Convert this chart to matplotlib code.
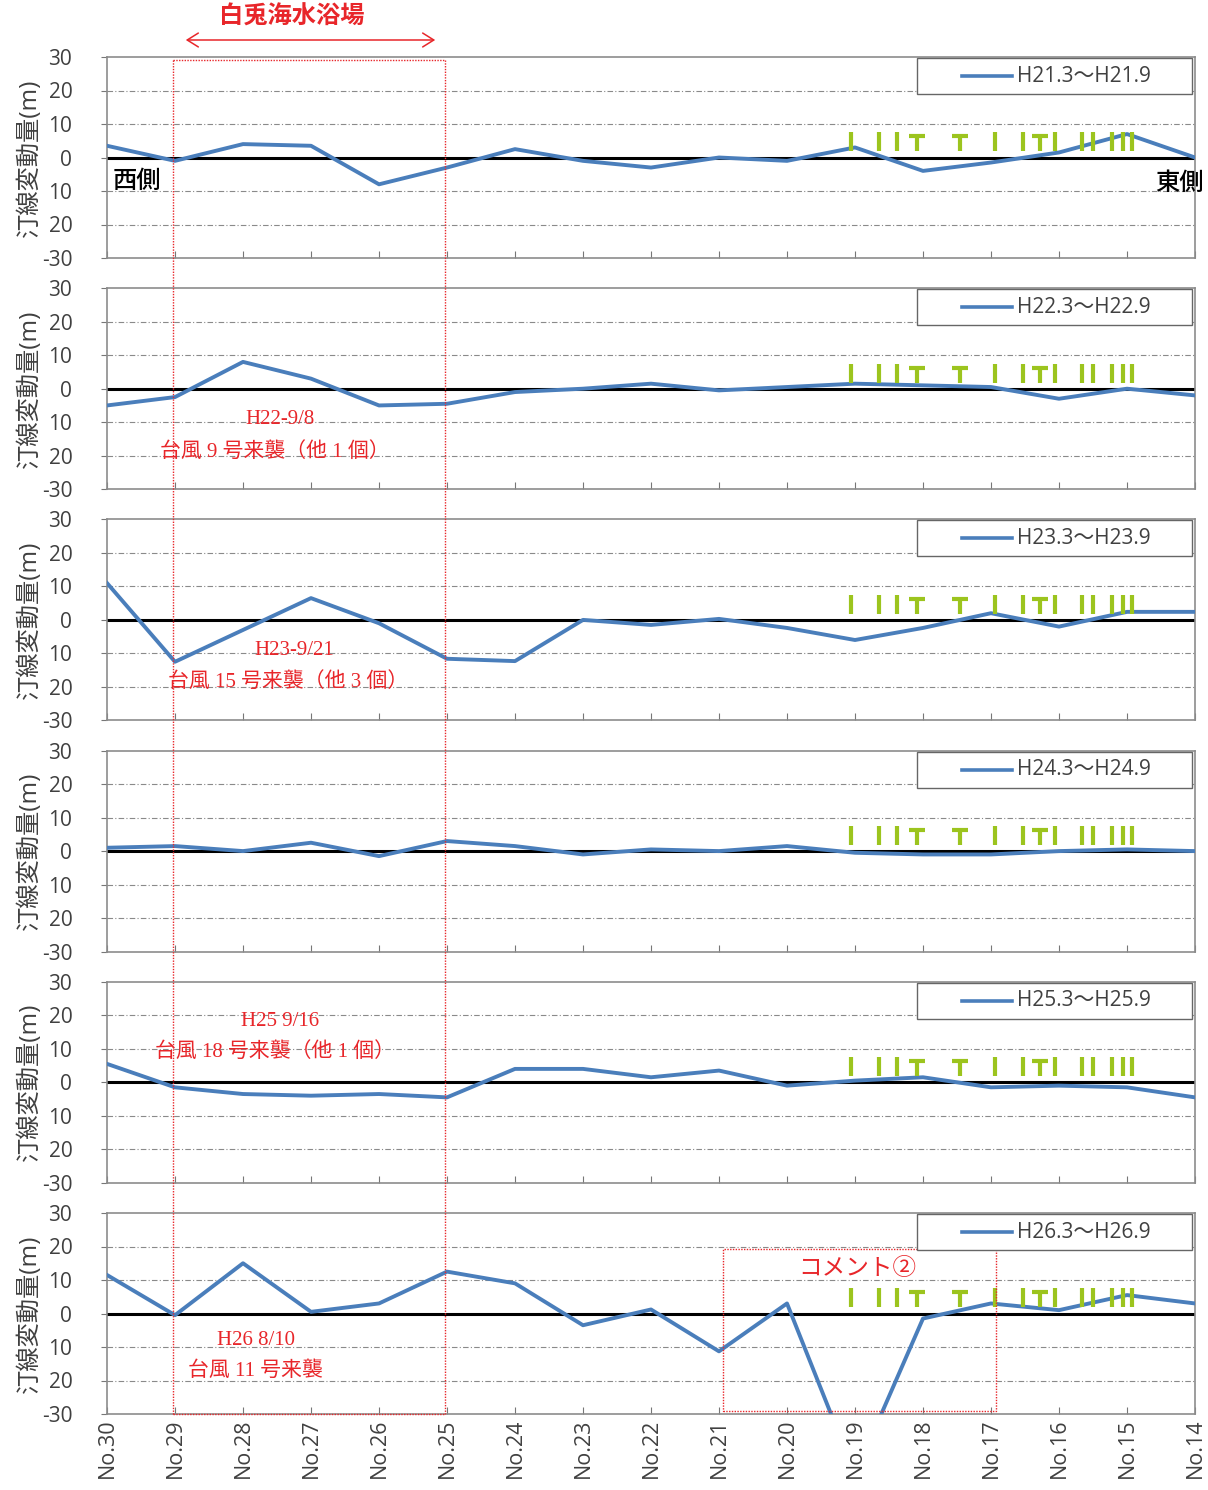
import numpy as np
import matplotlib.pyplot as plt
from matplotlib.patches import Rectangle, FancyArrowPatch
from matplotlib.lines import Line2D

plt.rcParams['font.family'] = ['Open Sans', 'Noto Sans CJK JP', 'DejaVu Sans']

# stations, west (No.30) to east (No.14)
stations = ['No.30', 'No.29', 'No.28', 'No.27', 'No.26', 'No.25', 'No.24', 'No.23', 'No.22',
            'No.21', 'No.20', 'No.19', 'No.18', 'No.17', 'No.16', 'No.15', 'No.14']
periods = ['H21.3～H21.9', 'H22.3～H22.9', 'H23.3～H23.9',
           'H24.3～H24.9', 'H25.3～H25.9', 'H26.3～H26.9']

# shoreline change (m)
h21 = [3.5, -1, 4, 3.5, -8, -3, 2.5, -1, -3, 0, -1, 3, -4, -1.5, 1.5, 7, 0]
h22 = [-5, -2.5, 8, 3, -5, -4.5, -1, 0, 1.5, -0.5, 0.5, 1.5, 1, 0.5, -3, 0, -2]
h23 = [11, -12.5, -3, 6.5, -1, -11.6, -12.3, 0, -1.5, 0.3, -2.4, -6, -2.4, 2, -2, 2.4, 2.4]
h24 = [1, 1.5, 0, 2.5, -1.5, 3, 1.5, -1, 0.5, 0, 1.5, -0.5, -1, -1, 0, 0.5, 0]
h25 = [5.5, -1.5, -3.5, -4, -3.5, -4.5, 4, 4, 1.5, 3.5, -1, 0.5, 1.5, -1.5, -1, -1.5, -4.5]
h26 = [11.5, -0.5, 15, 0.5, 3, 12.5, 9, -3.5, 1.2, -11.3, 3, -48, -1.5, 3, 1, 5.5, 3]
series = [h21, h22, h23, h24, h25, h26]

# typhoon notes per panel
typhoon_dates = [None, 'H22-9/8', 'H23-9/21', None, 'H25 9/16', 'H26 8/10']
typhoon_names = [None, '台風 9 号来襲（他 1 個）', '台風 15 号来襲（他 3 個）', None,
                 '台風 18 号来襲（他 1 個）', '台風 11 号来襲']
note_pos = [None, (2.54, -9.3, 2.47, -18.8), (2.76, -9, 2.66, -18.5), None,
            (2.54, 18.2, 2.47, 9), (2.19, -8, 2.19, -17.3)]

# coastal structures (groins I / T-groins T)
struct_x = [10.94, 11.35, 11.62, 11.91, 12.54, 13.06, 13.47, 13.72, 13.94,
            14.34, 14.5, 14.78, 14.94, 15.07]
struct_kind = 'IIITTIITIIIIII'

ytick_vals = [30, 20, 10, 0, -10, -20, -30]
ytick_text = ['30', '20', '10', '0', '10', '20', '-30']

blue = '#4a7ebb'
green = '#9cc41e'
red = '#e8262a'
gray = '#404040'
serif_jp = ['Liberation Serif', 'Noto Sans CJK JP']

W, H = 1208, 1490
fig = plt.figure(figsize=(W / 100, H / 100), dpi=100)
x = np.arange(len(stations))

axes = []
for i, vals in enumerate(series):
    top = 57 + 231.2 * i
    ax = fig.add_axes([107 / W, 1 - (top + 201) / H, 1088 / W, 201 / H])
    axes.append(ax)
    ax.set_xlim(0, len(stations) - 1)
    ax.set_ylim(-30, 30)
    for g in [20, 10, -10, -20]:
        ax.axhline(g, color='#8a8a8a', lw=0.8, ls=(0, (5, 2, 1, 2)), zorder=1)
    ax.axhline(0, color='black', lw=2.2, zorder=2)
    ax.plot(x, vals, color=blue, lw=2.8, zorder=3)
    for sx, k in zip(struct_x, struct_kind):
        if k == 'I':
            ax.plot([sx, sx], [1.8, 7.5], color=green, lw=3, zorder=4, solid_capstyle='butt')
        else:
            ax.plot([sx, sx], [1.8, 6.3], color=green, lw=3, zorder=4, solid_capstyle='butt')
            ax.plot([sx - 0.12, sx + 0.12], [6.3, 6.3], color=green, lw=3, zorder=4,
                    solid_capstyle='butt')
    ax.set_yticks(ytick_vals)
    ax.set_yticklabels(ytick_text)
    ax.set_xticks(x)
    ax.tick_params(axis='x', direction='in', length=5, color='#777777')
    ax.tick_params(axis='y', direction='out', length=4, color='#777777', pad=21,
                   labelsize=15, labelcolor=gray)
    if i < len(series) - 1:
        ax.set_xticklabels([])
    else:
        ax.set_xticklabels(stations, rotation=90, fontsize=15.5, color=gray)
    for s in ax.spines.values():
        s.set_color('#8c8c8c')
        s.set_linewidth(1.2)
    ax.set_ylabel('汀線変動量(m)', fontsize=17.5, color=gray, labelpad=0)
    ax.yaxis.set_label_coords(-0.06, 0.5)

    # legend box
    ax.add_patch(Rectangle((0.7445, 0.816), 0.2527, 0.179, transform=ax.transAxes,
                           facecolor='white', edgecolor='#666666', lw=1.0, zorder=6))
    ax.add_line(Line2D([0.786, 0.832], [0.905, 0.905], transform=ax.transAxes,
                       color=blue, lw=2.6, zorder=7))
    ax.text(0.836, 0.905, periods[i], transform=ax.transAxes, va='center', ha='left',
            fontsize=15, color=gray, zorder=7)

    if typhoon_dates[i]:
        dx, dy, nx, ny = note_pos[i]
        ax.text(dx, dy, typhoon_dates[i], ha='center', va='center', color=red, fontsize=15,
                family=serif_jp, zorder=5)
        ax.text(nx, ny, typhoon_names[i], ha='center', va='center', color=red, fontsize=15,
                family=serif_jp, zorder=5)

axes[0].text(0.005, -7, '西側', fontsize=17.5, color='black', ha='left', va='center',
             transform=axes[0].get_yaxis_transform(), family=['Noto Sans CJK JP'],
             fontweight='medium')
axes[0].text(1.008, -7.5, '東側', fontsize=17.5, color='black', ha='right', va='center',
             transform=axes[0].get_yaxis_transform(), family=['Noto Sans CJK JP'],
             fontweight='medium')

# コメント② box on last panel
last = axes[-1]
last.add_patch(Rectangle((9.06, -29), 4.01, 48.4, fill=False, edgecolor=red, lw=1,
                         ls=(0, (1, 1)), zorder=5))
last.text(11.04, 13.4, 'コメント②', color=red, fontsize=17, ha='center', va='center', zorder=5)

# beach extent (dashed red box across all panels)
inv = fig.transFigure.inverted()
def fpt(ax, xx, yy):
    return inv.transform(ax.transData.transform((xx, yy)))

xl, xr = 0.97, 4.97
p_tl = fpt(axes[0], xl, 29)
p_tr = fpt(axes[0], xr, 29)
p_bl = fpt(axes[-1], xl, -30)
p_br = fpt(axes[-1], xr, -30)
for a, b in [(p_tl, p_bl), (p_tr, p_br), (p_tl, p_tr), (p_bl, p_br)]:
    fig.add_artist(Line2D([a[0], b[0]], [a[1], b[1]], color=red, lw=1,
                          ls=(0, (1, 1)), zorder=10))

fig.text(292 / W, 1 - 18 / H, '白兎海水浴場', color=red, fontsize=17.5, ha='center',
         va='center', fontweight='bold')
fig.add_artist(FancyArrowPatch(
    (183 / W, 1 - 40 / H), (438 / W, 1 - 40 / H), transform=fig.transFigure,
    arrowstyle='<->,head_length=8,head_width=5', color=red, lw=1.1))

fig.savefig('out.png', dpi=100)
